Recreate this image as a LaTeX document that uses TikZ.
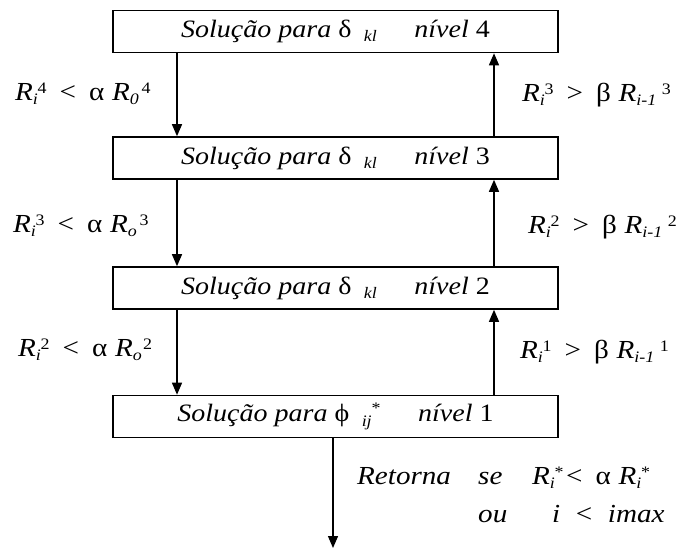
\documentclass[tikz,border=0pt]{standalone}
\usepackage{fontspec}
\setmainfont{Liberation Serif}[FakeStretch=1.12]
\usetikzlibrary{arrows.meta}
\newcommand\ssb[2]{{\fontsize{16}{16}\selectfont\raisebox{-0.55ex}{\itshape #1}\kern-0.02em\raisebox{0.95ex}{\upshape #2}}}
\newcommand\ssq[2]{{\fontsize{16}{16}\selectfont\raisebox{-0.55ex}{\itshape #1}\hspace{0.35em}\raisebox{0.95ex}{\upshape #2}}}
\newcommand\lvltext[3]{\itshape Solução para \upshape #1\hspace{0.5em}{\fontsize{16}{16}\selectfont\raisebox{-0.6ex}{\itshape #2}}\hspace{1.5em}\itshape nível \upshape #3}
\newcommand\gp{\hspace{0.5em}}
\tikzset{
  lvl/.style={draw, line width=1.6pt, minimum width=445pt, minimum height=42pt, inner sep=0pt, font=\fontsize{25}{28}\selectfont},
  flow/.style={line width=1.3pt, -{Triangle[width=10pt,length=12pt]}},
  cond/.style={font=\fontsize{26}{28}\selectfont, inner sep=0pt, anchor=base west},
}
\begin{document}
\begin{tikzpicture}[x=1pt,y=-1pt]
\useasboundingbox (0,0) rectangle (683,549);
\fill[white] (0,0) rectangle (683,549);
\node[lvl] (n4) at (335.5,31.5) {\lvltext{δ}{kl}{4}};
\node[lvl] (n3) at (335.5,158) {\lvltext{δ}{kl}{3}};
\node[lvl] (n2) at (335.5,288) {\lvltext{δ}{kl}{2}};
\node[lvl] (n1) at (335.5,416.5) {\itshape Solução para \upshape ϕ\hspace{0.5em}{\fontsize{16}{16}\selectfont\raisebox{-0.6ex}{\itshape ij}\raisebox{1.1ex}{*}}\hspace{1.5em}\itshape nível \upshape 1};
\draw[flow] ([xshift=-158.5pt]n4.south) -- ([xshift=-158.5pt]n3.north);
\draw[flow] ([xshift=-158.5pt]n3.south) -- ([xshift=-158.5pt]n2.north);
\draw[flow] ([xshift=-158.5pt]n2.south) -- ([xshift=-158.5pt]n1.north);
\draw[flow] ([xshift=158.5pt]n3.north) -- ([xshift=158.5pt]n4.south);
\draw[flow] ([xshift=158.5pt]n2.north) -- ([xshift=158.5pt]n3.south);
\draw[flow] ([xshift=158.5pt]n1.north) -- ([xshift=158.5pt]n2.south);
\coordinate (tail) at (333,548);
\draw[flow] (n1.south -| tail) -- (tail);
\node[cond] (l4) at (15,100) {\itshape R\ssb{i}{4}\gp\upshape <\gp α\hspace{0.3em}\itshape R\ssb{0}{\hspace{0.2em}4}};
\node[cond] (l3) at (13,232) {\itshape R\ssb{i}{3}\gp\upshape <\gp α\hspace{0.3em}\itshape R\ssb{o}{\hspace{0.2em}3}};
\node[cond] (l2) at (18,356) {\itshape R\ssb{i}{2}\gp\upshape <\gp α\hspace{0.3em}\itshape R\ssb{o}{\hspace{0.1em}2}};
\node[cond] (r3) at (522,101) {\itshape R\ssb{i}{3}\gp\upshape >\gp β\hspace{0.3em}\itshape R\ssq{i-1}{3}};
\node[cond] (r2) at (528,233) {\itshape R\ssb{i}{2}\gp\upshape >\gp β\hspace{0.3em}\itshape R\ssq{i-1}{2}};
\node[cond] (r1) at (520,358) {\itshape R\ssb{i}{1}\gp\upshape >\gp β\hspace{0.3em}\itshape R\ssq{i-1}{1}};
\node[cond] (ret) at (357,484) {\itshape Retorna};
\node[cond] (se) at (478,484) {\itshape se};
\node[cond] (rc) at (532,484) {\itshape R\ssb{i}{*}\hspace{0.1em}\upshape <\gp α\hspace{0.3em}\itshape R\ssb{i}{*}};
\node[cond] (ou) at (478,522) {\itshape ou};
\node[cond] (im) at (552,522) {\itshape i\hspace{0.6em}\upshape <\hspace{0.6em}\itshape imax};
\end{tikzpicture}
\end{document}
